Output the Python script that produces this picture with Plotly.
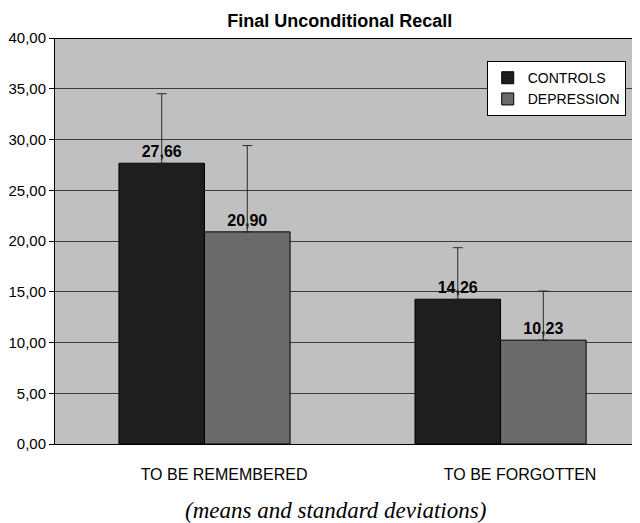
import plotly.graph_objects as go

categories = ["TO BE REMEMBERED", "TO BE FORGOTTEN"]
series_names = ["CONTROLS", "DEPRESSION"]
controls_mean = [27.66, 14.26]
depression_mean = [20.90, 10.23]
controls_sd = [6.85, 5.08]
depression_sd = [8.50, 4.84]
y_ticks = [0, 5, 10, 15, 20, 25, 30, 35, 40]
colors = ["#1e1e1e", "#6a6a6a"]

SANS = "Liberation Sans, Arial"

def fmt(v):
    return f"{v:.2f}".replace(".", ",")

x_idx = list(range(len(categories)))
fig = go.Figure()
for name, means, sds, col in zip(series_names, [controls_mean, depression_mean],
                                 [controls_sd, depression_sd], colors):
    fig.add_trace(go.Bar(
        x=x_idx, y=means, name=name,
        marker=dict(color=col, line=dict(color="#000000", width=1)),
        error_y=dict(type="data", symmetric=False, array=sds,
                     arrayminus=[0] * len(sds), color="#2a2a2a",
                     thickness=1, width=5),
        text=[fmt(v) for v in means], textposition="outside",
        textfont=dict(family=SANS, size=16, color="#000000"),
        texttemplate="<b>%{text}</b>",
        cliponaxis=False,
    ))

label_shift = 0.066
# the page body has an 8px margin, so the figure is drawn 8px in from the top-left
fig.update_layout(
    width=632, height=515,
    margin=dict(l=47, r=0, t=30, b=79, autoexpand=False),
    paper_bgcolor="white", plot_bgcolor="#c0c0c0",
    barmode="group", bargap=0.422, bargroupgap=0,
    separators=", ",
    showlegend=True,
    legend=dict(x=0.738, y=0.943, xanchor="left", yanchor="top",
                bgcolor="white", bordercolor="#000000", borderwidth=1,
                font=dict(family=SANS, size=14, color="#000"),
                itemwidth=30, tracegroupgap=0),
    title=dict(text="<b>Final Unconditional Recall</b>", x=0.525, xanchor="center",
               y=0.975, yanchor="middle",
               font=dict(family=SANS, size=18, color="#000")),
    font=dict(family=SANS, color="#000"),
)
fig.update_xaxes(
    range=[-0.505, 1.471], automargin=False,
    tickvals=[i + label_shift for i in x_idx], ticktext=categories,
    ticks="", showgrid=False, zeroline=False,
    showline=True, linecolor="#000000", linewidth=1,
    tickfont=dict(family=SANS, size=16, color="#000"),
    ticklabelstandoff=16,
)
fig.update_yaxes(
    range=[0, 40], tickvals=y_ticks, tickformat=".2f", automargin=False,
    ticks="outside", ticklen=5, tickcolor="#000",
    showgrid=True, gridcolor="#3a3a3a", gridwidth=1,
    zeroline=False, showline=True, linecolor="#000000", linewidth=1,
    tickfont=dict(family=SANS, size=15, color="#000"),
)
# top border of plot area and category boundary tick
fig.add_shape(type="line", xref="paper", yref="y", x0=0, x1=1, y0=40, y1=40,
              line=dict(color="#000000", width=2))
fig.add_shape(type="line", xref="x", yref="y", x0=0.5, x1=0.5, y0=0, y1=-0.5,
              line=dict(color="#000000", width=1))
fig.add_annotation(text="<i>(means and standard deviations)</i>", xref="paper", yref="paper",
                   x=0.48, y=-0.163, xanchor="center", yanchor="middle",
                   showarrow=False,
                   font=dict(family="Liberation Serif, Times New Roman", size=23,
                             color="#000"))
fig.write_html("out.html")
